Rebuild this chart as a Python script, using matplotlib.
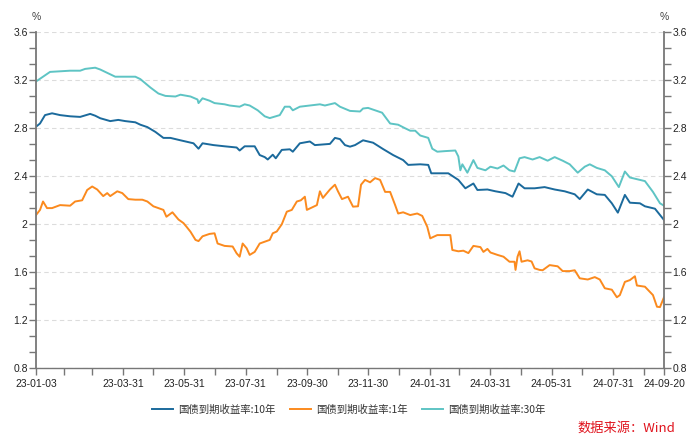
import matplotlib
matplotlib.use("Agg")
import matplotlib.pyplot as plt
import pandas as pd

plt.rcParams['font.family'] = ['Liberation Sans', 'Noto Sans CJK SC', 'DejaVu Sans']

# 国债到期收益率:10年
dates_10y = ["2023-01-03", "2023-01-07", "2023-01-12", "2023-01-19", "2023-01-27", "2023-02-06",
             "2023-02-16", "2023-02-26", "2023-03-03", "2023-03-08", "2023-03-18", "2023-03-26",
             "2023-04-02", "2023-04-12", "2023-04-17", "2023-04-24", "2023-05-02", "2023-05-10",
             "2023-05-17", "2023-05-27", "2023-06-09", "2023-06-14", "2023-06-18", "2023-06-29",
             "2023-07-10", "2023-07-22", "2023-07-25", "2023-07-30", "2023-08-09", "2023-08-14",
             "2023-08-19", "2023-08-22", "2023-08-27", "2023-08-30", "2023-09-05", "2023-09-13",
             "2023-09-16", "2023-09-23", "2023-10-03", "2023-10-08", "2023-10-23", "2023-10-28",
             "2023-11-02", "2023-11-07", "2023-11-12", "2023-11-17", "2023-11-25", "2023-12-05",
             "2023-12-15", "2023-12-25", "2024-01-04", "2024-01-09", "2024-01-21", "2024-01-29",
             "2024-02-01", "2024-02-18", "2024-02-28", "2024-03-03", "2024-03-06", "2024-03-14",
             "2024-03-18", "2024-03-28", "2024-04-05", "2024-04-15", "2024-04-22", "2024-04-28",
             "2024-05-04", "2024-05-14", "2024-05-24", "2024-06-03", "2024-06-13", "2024-06-23",
             "2024-06-28", "2024-07-06", "2024-07-15", "2024-07-23", "2024-07-30", "2024-08-05",
             "2024-08-12", "2024-08-17", "2024-08-27", "2024-09-01", "2024-09-11", "2024-09-20"]
yield_10y = [2.813, 2.84, 2.91, 2.925, 2.91, 2.90,
             2.895, 2.92, 2.905, 2.884, 2.86, 2.87,
             2.86, 2.85, 2.83, 2.81, 2.77, 2.72,
             2.72, 2.70, 2.675, 2.63, 2.675, 2.66,
             2.65, 2.64, 2.615, 2.65, 2.65, 2.577,
             2.56, 2.54, 2.58, 2.55, 2.62, 2.625,
             2.605, 2.675, 2.69, 2.66, 2.67, 2.72,
             2.71, 2.66, 2.647, 2.66, 2.70, 2.68,
             2.627, 2.577, 2.535, 2.495, 2.50, 2.495,
             2.425, 2.425, 2.37, 2.33, 2.30, 2.34,
             2.286, 2.29, 2.275, 2.26, 2.23, 2.34,
             2.30, 2.30, 2.31, 2.29, 2.275, 2.25,
             2.21, 2.29, 2.25, 2.245, 2.175, 2.097,
             2.245, 2.18, 2.175, 2.15, 2.13, 2.036]

# 国债到期收益率:1年
dates_1y = ["2023-01-03", "2023-01-07", "2023-01-10", "2023-01-14", "2023-01-19", "2023-01-27",
            "2023-02-06", "2023-02-11", "2023-02-18", "2023-02-23", "2023-02-28", "2023-03-05",
            "2023-03-11", "2023-03-15", "2023-03-18", "2023-03-25", "2023-03-30", "2023-04-05",
            "2023-04-12", "2023-04-19", "2023-04-24", "2023-04-30", "2023-05-10", "2023-05-13",
            "2023-05-19", "2023-05-25", "2023-05-30", "2023-06-02", "2023-06-06", "2023-06-11",
            "2023-06-14", "2023-06-18", "2023-06-25", "2023-06-30", "2023-07-03", "2023-07-10",
            "2023-07-18", "2023-07-22", "2023-07-25", "2023-07-28", "2023-08-01", "2023-08-04",
            "2023-08-09", "2023-08-14", "2023-08-24", "2023-08-27", "2023-08-31", "2023-09-05",
            "2023-09-10", "2023-09-15", "2023-09-20", "2023-09-24", "2023-09-28", "2023-09-30",
            "2023-10-10", "2023-10-13", "2023-10-16", "2023-10-23", "2023-10-28", "2023-10-31",
            "2023-11-04", "2023-11-10", "2023-11-15", "2023-11-20", "2023-11-23", "2023-11-27",
            "2023-12-02", "2023-12-07", "2023-12-12", "2023-12-17", "2023-12-22", "2023-12-27",
            "2023-12-30", "2024-01-04", "2024-01-11", "2024-01-18", "2024-01-23", "2024-01-28",
            "2024-01-31", "2024-02-07", "2024-02-20", "2024-02-22", "2024-02-28", "2024-03-04",
            "2024-03-09", "2024-03-14", "2024-03-21", "2024-03-24", "2024-03-28", "2024-03-31",
            "2024-04-07", "2024-04-13", "2024-04-19", "2024-04-24", "2024-04-25", "2024-04-27",
            "2024-04-29", "2024-05-01", "2024-05-07", "2024-05-11", "2024-05-14", "2024-05-19",
            "2024-05-22", "2024-05-29", "2024-06-06", "2024-06-11", "2024-06-18", "2024-06-23",
            "2024-06-28", "2024-07-06", "2024-07-13", "2024-07-18", "2024-07-23", "2024-07-30",
            "2024-08-04", "2024-08-07", "2024-08-12", "2024-08-17", "2024-08-22", "2024-08-24",
            "2024-09-01", "2024-09-09", "2024-09-13", "2024-09-16", "2024-09-20"]
yield_1y = [2.077, 2.12, 2.19, 2.135, 2.135, 2.16,
            2.155, 2.19, 2.20, 2.286, 2.315, 2.29,
            2.235, 2.26, 2.235, 2.275, 2.26, 2.21,
            2.205, 2.205, 2.19, 2.15, 2.12, 2.063,
            2.10, 2.04, 2.01, 1.98, 1.938, 1.87,
            1.86, 1.90, 1.92, 1.925, 1.84, 1.82,
            1.815, 1.758, 1.73, 1.84, 1.80, 1.745,
            1.77, 1.84, 1.87, 1.925, 1.94, 2.0,
            2.105, 2.12, 2.19, 2.20, 2.23, 2.12,
            2.16, 2.275, 2.22, 2.29, 2.33, 2.275,
            2.21, 2.23, 2.147, 2.15, 2.33, 2.37,
            2.35, 2.385, 2.37, 2.27, 2.27, 2.16,
            2.09, 2.10, 2.077, 2.09, 2.07, 1.98,
            1.883, 1.91, 1.91, 1.786, 1.775, 1.78,
            1.76, 1.82, 1.81, 1.77, 1.795, 1.765,
            1.745, 1.73, 1.688, 1.688, 1.62, 1.73,
            1.775, 1.688, 1.70, 1.69, 1.633, 1.62,
            1.617, 1.66, 1.65, 1.61, 1.61, 1.617,
            1.55, 1.54, 1.56, 1.54, 1.467, 1.455,
            1.392, 1.41, 1.52, 1.535, 1.567, 1.49,
            1.48, 1.41, 1.313, 1.31, 1.392]

# 国债到期收益率:30年
dates_30y = ["2023-01-03", "2023-01-17", "2023-01-27", "2023-02-06", "2023-02-16", "2023-02-21",
             "2023-03-03", "2023-03-08", "2023-03-18", "2023-03-23", "2023-04-02", "2023-04-12",
             "2023-04-17", "2023-04-27", "2023-05-05", "2023-05-12", "2023-05-22", "2023-05-27",
             "2023-06-06", "2023-06-13", "2023-06-14", "2023-06-18", "2023-06-25", "2023-06-30",
             "2023-07-10", "2023-07-15", "2023-07-25", "2023-07-30", "2023-08-04", "2023-08-12",
             "2023-08-19", "2023-08-24", "2023-09-03", "2023-09-08", "2023-09-13", "2023-09-16",
             "2023-09-23", "2023-10-03", "2023-10-13", "2023-10-18", "2023-10-28", "2023-11-02",
             "2023-11-12", "2023-11-22", "2023-11-25", "2023-11-30", "2023-12-07", "2023-12-14",
             "2023-12-22", "2023-12-30", "2024-01-06", "2024-01-11", "2024-01-16", "2024-01-21",
             "2024-01-29", "2024-02-02", "2024-02-07", "2024-02-15", "2024-02-25", "2024-02-28",
             "2024-03-01", "2024-03-03", "2024-03-08", "2024-03-14", "2024-03-18", "2024-03-26",
             "2024-03-31", "2024-04-07", "2024-04-13", "2024-04-19", "2024-04-24", "2024-04-29",
             "2024-05-04", "2024-05-12", "2024-05-19", "2024-05-27", "2024-06-03", "2024-06-11",
             "2024-06-18", "2024-06-26", "2024-07-03", "2024-07-08", "2024-07-15", "2024-07-23",
             "2024-07-30", "2024-08-06", "2024-08-12", "2024-08-17", "2024-08-27", "2024-09-01",
             "2024-09-09", "2024-09-16", "2024-09-20"]
yield_30y = [3.19, 3.27, 3.275, 3.28, 3.28, 3.295,
             3.305, 3.29, 3.25, 3.23, 3.23, 3.23,
             3.21, 3.14, 3.09, 3.07, 3.065, 3.08,
             3.065, 3.04, 3.01, 3.05, 3.03, 3.01,
             3.0, 2.99, 2.98, 3.0, 2.99, 2.95,
             2.90, 2.885, 2.91, 2.98, 2.98, 2.95,
             2.98, 2.99, 3.0, 2.99, 3.01, 2.98,
             2.945, 2.94, 2.965, 2.97, 2.95, 2.93,
             2.84, 2.83, 2.80, 2.78, 2.78, 2.74,
             2.72, 2.63, 2.605, 2.61, 2.615, 2.565,
             2.45, 2.50, 2.43, 2.535, 2.47, 2.45,
             2.48, 2.465, 2.49, 2.45, 2.44, 2.55,
             2.56, 2.54, 2.56, 2.53, 2.56, 2.53,
             2.50, 2.43, 2.48, 2.50, 2.47, 2.45,
             2.40, 2.31, 2.44, 2.39, 2.37, 2.36,
             2.27, 2.175, 2.155]

tick_dates = ["2023-01-03", "2023-03-31", "2023-05-31", "2023-07-31", "2023-09-30", "2023-11-30",
              "2024-01-31", "2024-03-31", "2024-05-31", "2024-07-31", "2024-09-20"]
minor_dates = ["2023-01-31", "2023-02-28", "2023-04-30", "2023-06-30", "2023-08-31", "2023-10-31",
               "2023-12-31", "2024-02-29", "2024-04-30", "2024-06-30", "2024-08-31"]

fig = plt.figure(figsize=(7, 4.45), dpi=100)
ax = fig.add_axes([36/700, 1-368.3/445, 628/700, 336/445])

ax.plot(pd.to_datetime(dates_10y), yield_10y, color='#1b6a9c', lw=1.4, label='国债到期收益率:10年')
ax.plot(pd.to_datetime(dates_1y), yield_1y, color='#fb8a1e', lw=1.4, label='国债到期收益率:1年')
ax.plot(pd.to_datetime(dates_30y), yield_30y, color='#5ec4c4', lw=1.4, label='国债到期收益率:30年')

ax.set_xlim(pd.Timestamp("2023-01-03"), pd.Timestamp("2024-09-20"))
ax.set_ylim(0.8, 3.6)
ax.set_yticks([0.8, 1.2, 1.6, 2.0, 2.4, 2.8, 3.2, 3.6])
ax.set_yticklabels(["0.8", "1.2", "1.6", "2", "2.4", "2.8", "3.2", "3.6"])
ax.set_yticks([0.8 + 0.4 * i / 3 for i in range(22)], minor=True)
ax.set_xticks(pd.to_datetime(tick_dates))
ax.set_xticklabels([d[2:] for d in tick_dates])
ax.set_xticks(pd.to_datetime(minor_dates), minor=True)

ax.yaxis.grid(True, which='major', color='#dcdcdc', linestyle=(0, (4, 3)), lw=0.8)
ax.set_axisbelow(True)

ax.spines['top'].set_visible(False)
for s in ['left', 'right']:
    ax.spines[s].set_color('#777777')
    ax.spines[s].set_linewidth(1.3)
ax.spines['bottom'].set_color('#777777')
ax.spines['bottom'].set_linewidth(1.0)

ax.tick_params(axis='y', which='both', left=True, right=True, labelleft=True, labelright=True,
               direction='out', length=5, width=1, color='#777777', labelsize=7.5, pad=1,
               labelcolor='#222222')
ax.tick_params(axis='x', which='both', direction='out', length=5, width=1, color='#777777',
               labelsize=7.5, pad=3, labelcolor='#222222')

fig.text(36/700, 1-17/445, '%', ha='center', va='center', fontsize=7.5, color='#444444')
fig.text(664/700, 1-17/445, '%', ha='center', va='center', fontsize=7.5, color='#444444')

fig.legend(loc='center', bbox_to_anchor=(349/700, 1-410/445), ncol=3, frameon=False,
           fontsize=7.5, handlelength=2.0, handletextpad=0.5, columnspacing=1.4)
for t in fig.legends[0].get_texts():
    t.set_family(['Noto Sans CJK SC', 'DejaVu Sans'])
    t.set_color('#333333')

fig.text(675/700, 1-428/445, '数据来源：Wind', ha='right', va='center', fontsize=9.5,
         color='#e0141e', family=['Noto Sans CJK SC', 'DejaVu Sans'])

fig.savefig("out.png", dpi=100)
